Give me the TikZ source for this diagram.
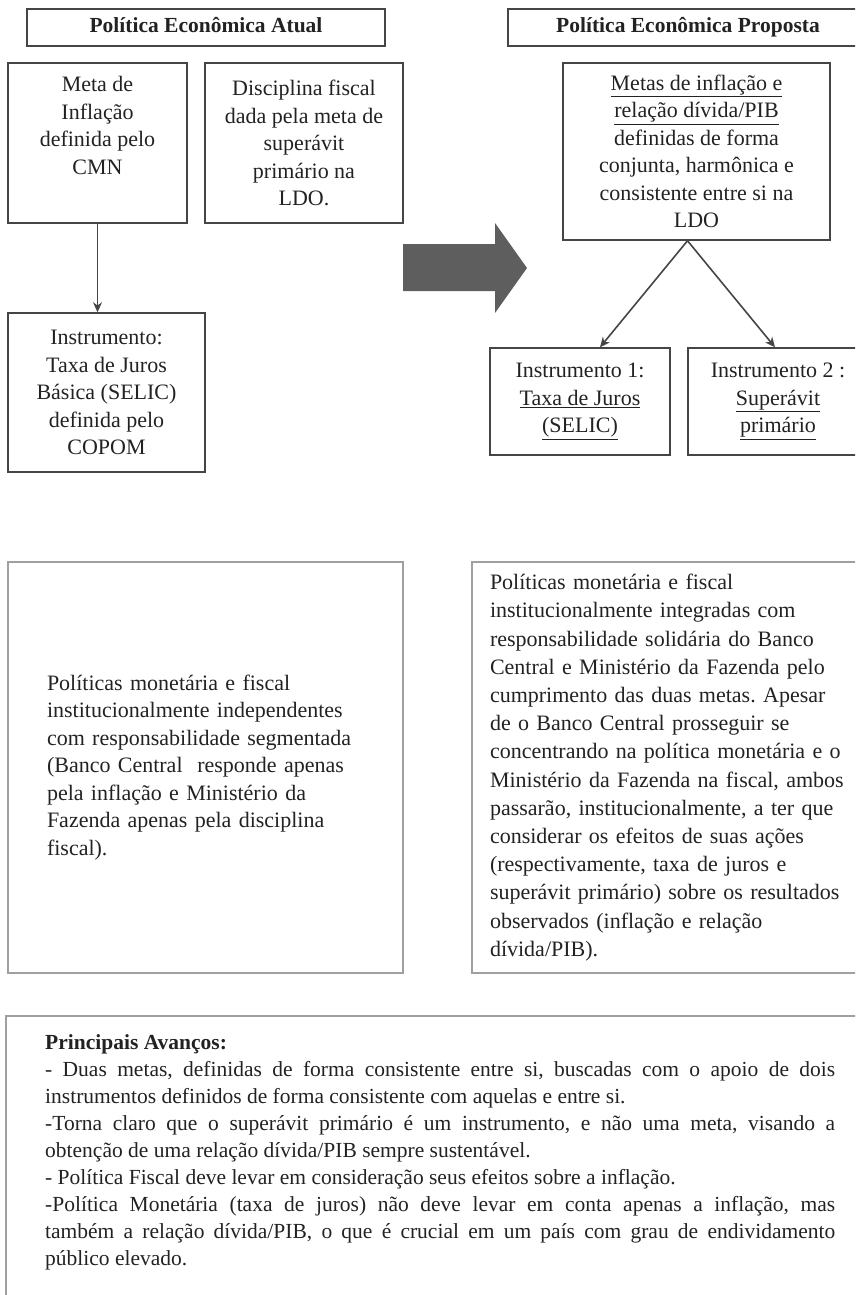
\documentclass[tikz,border=0pt]{standalone}
\usepackage{fontspec}
\setmainfont{Liberation Serif}
\usepackage{tikz}
\usetikzlibrary{positioning, arrows.meta, calc}
\usepackage{xcolor}
\definecolor{petext}{HTML}{222222}
\definecolor{peline}{HTML}{454545}
\definecolor{pelight}{HTML}{A0A0A0}
\definecolor{pearrow}{HTML}{5E5E5E}
\frenchspacing

\begin{document}
\begin{tikzpicture}[x=1pt, y=-1pt,
    every node/.style={text=petext},
    bodyfont/.style={font=\fontsize{22}{27.5}\selectfont},
    caixa/.style={draw=peline, line width=1.5pt, align=center, inner sep=0pt, bodyfont},
    titulo/.style={draw=peline, line width=1.6pt, minimum height=37, inner ysep=0pt,
      text height=15, text depth=5, font=\fontsize{21.5}{25}\selectfont\bfseries},
    painel/.style={draw=pelight, line width=1.7pt, align=left, inner ysep=0pt, bodyfont},
    seta/.style={peline, line width=1.6pt, -{Stealth[length=10pt, width=9pt]}}]
    \useasboundingbox (0,0) rectangle (855,1295);
    \clip (0,0) rectangle (855,1295);

    % politica atual
    \node[titulo, minimum width=358] (atual) at (206,27.5) {Política Econômica Atual};
    \node[caixa, minimum width=179, minimum height=160] (metainf) at (97.5,143)
      {Meta de\\Inflação\\definida pelo\\CMN\\ \strut};
    \node[caixa, minimum width=198, minimum height=160] (discfis) at (304,143)
      {Disciplina fiscal\\dada pela meta de\\superávit\\primário na\\LDO.};
    \node[caixa, minimum width=197, minimum height=159] (instrum) at (106.5,392.5)
      {Instrumento:\\Taxa de Juros\\Básica (SELIC)\\definida pelo\\COPOM};
    \draw[seta] (metainf.south) -- (metainf.south |- instrum.north);

    % seta grande
    \fill[pearrow] (403,244) -- (495,244) -- (495,223) -- (527,268)
      -- (495,313) -- (495,291) -- (403,291) -- cycle;

    % politica proposta
    \node[titulo, minimum width=360] (proposta) at (688,27.5) {Política Econômica Proposta};
    \node[caixa, minimum width=267, minimum height=177] (metas) at (696.5,151.5)
      {\underline{Metas de inflação e}\\\underline{relação dívida/PIB}\\definidas de forma\\
       conjunta, harmônica e\\consistente entre si na\\LDO};
    \node[caixa, minimum width=180, minimum height=107] (instrum1) at (580,401.5)
      {Instrumento 1:\\\underline{Taxa de Juros}\\\underline{(SELIC)}};
    \node[caixa, minimum width=180, minimum height=107] (instrum2) at (778,401.5)
      {Instrumento 2 :\\\underline{Superávit}\\\underline{primário}};
    \draw[seta] ([xshift=-9pt]metas.south) -- ([xshift=20pt]instrum1.north);
    \draw[seta] ([xshift=-9pt]metas.south) -- ([xshift=-3pt]instrum2.north);

    % responsabilidades
    \node[painel, text width=317, inner xsep=39, minimum height=411] (indep) at (205.5,767.5)
      {Políticas monetária e fiscal\\institucionalmente independentes\\
       com responsabilidade segmentada\\(Banco Central\ \ responde apenas\\
       pela inflação e Ministério da\\Fazenda apenas pela disciplina\\fiscal).};
    \node[painel, text width=362, inner xsep=18, minimum height=411,
      font=\fontsize{22}{28.2}\selectfont] (integ) at (671,767.5)
      {Políticas monetária e fiscal\\institucionalmente integradas com\\
       responsabilidade solidária do Banco\\Central e Ministério da Fazenda pelo\\
       cumprimento das duas metas. Apesar\\de o Banco Central prosseguir se\\
       concentrando na política monetária e o\\Ministério da Fazenda na fiscal, ambos\\
       passarão, institucionalmente, a ter que\\considerar os efeitos de suas ações\\
       (respectivamente, taxa de juros e\\superávit primário) sobre os resultados\\
       observados (inflação e relação\\dívida/PIB).};

    % avancos
    \node[painel, anchor=north west, minimum width=870, minimum height=310] (avancos) at (5,1015) {};
    \node[anchor=north west, text width=790, align=justify, inner sep=0pt,
      font=\fontsize{21.5}{27}\selectfont] (avancostxt) at (45,1034)
      {\noindent\textbf{Principais Avanços:}\\
       - Duas metas, definidas de forma consistente entre si, buscadas com o apoio de dois\linebreak
       instrumentos definidos de forma consistente com aquelas e entre si.\\
       -Torna claro que o superávit primário é um instrumento, e não uma meta, visando a\linebreak
       obtenção de uma relação dívida/PIB sempre sustentável.\\
       - Política Fiscal deve levar em consideração seus efeitos sobre a inflação.\\
       -Política Monetária (taxa de juros) não deve levar em conta apenas a inflação, mas\linebreak
       também a relação dívida/PIB, o que é crucial em um país com grau de endividamento\linebreak
       público elevado.};
  \end{tikzpicture}
\end{document}
